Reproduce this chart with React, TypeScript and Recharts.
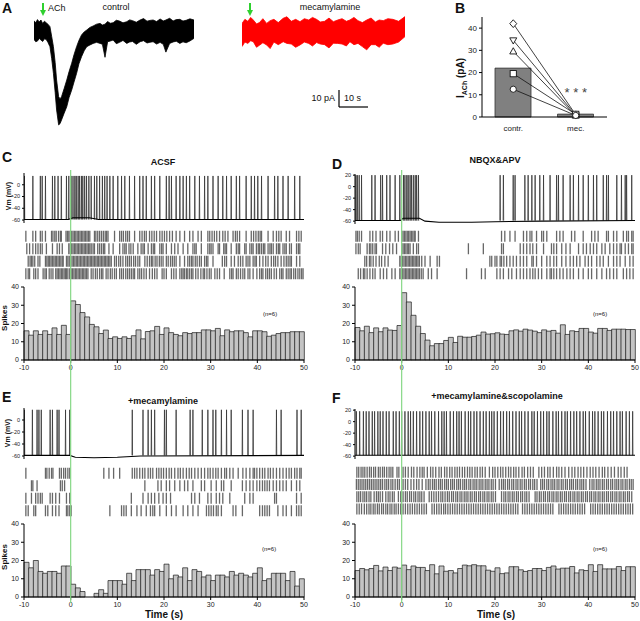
import React from "react";
import {
  ComposedChart,
  LineChart,
  ScatterChart,
  Line,
  Area,
  Bar,
  Scatter,
  XAxis,
  YAxis,
  ReferenceLine,
  ReferenceDot,
} from "recharts";

const FONT = "'Liberation Sans', Arial, sans-serif";

// ---- A: ACh evoked current, envelope of the noisy trace (pA) ----
const ctrlTime = [0, 0.6, 1.2, 1.8, 2.4, 3, 3.6, 4.2, 4.8, 5.5, 6.1, 6.7, 7.3, 7.8, 8.5, 9.0, 9.5, 10.4, 11.3, 12.1, 13, 13.8, 14.7, 15.5, 16.4, 17.3, 18.2, 19.3, 20.4, 21.6, 22.8, 23.6, 24.5, 25.4, 26.3, 27.3, 28.4, 29.5, 30.7, 32, 33, 34, 35.3, 36.6, 37.8, 39, 40, 41.1, 42.3, 43.5, 44.6, 45.5, 46.8, 48, 49.1, 50.3, 51.4, 52.5, 53.8, 55.2];
const ctrlHi = [7.2, 5.5, 8.0, 6.2, 7.7, 5.0, 6.8, 5.6, 4.5, 2.6, -5, -12.8, -25, -38.5, -51.3, -53, -51.3, -45, -38.5, -32, -25.6, -19, -12.8, -8, -3.8, -1.5, 0, 2.0, 3.1, 4.5, 5.1, 3.8, 4.5, 6.5, 5.2, 5.6, 7.5, 6.9, 5.5, 6.4, 7.8, 7.2, 6.0, 7.7, 8.8, 6.8, 7.4, 7.7, 6.5, 8.5, 7.0, 7.7, 9.0, 7.0, 8.0, 8.2, 6.9, 7.5, 8.6, 7.7];
const ctrlLo = [-7.2, -9.0, -8.5, -6.5, -7.7, -8.8, -6.8, -7.2, -9.5, -12.8, -22, -33.3, -48, -61.5, -73, -72, -69.2, -64, -59, -52, -46.2, -40, -33.3, -26, -20.5, -16, -12.8, -11.5, -10.3, -9.5, -10.3, -11, -21, -9, -8.5, -7.7, -10.5, -9.5, -8, -10.3, -9.2, -8.8, -11, -9, -8.2, -10, -9.4, -9, -10.8, -9.5, -11, -17, -10.3, -9.2, -8.6, -10.3, -9.1, -9.8, -8.4, -6.4];
const mecTime = [0, 1, 2, 3, 3.9, 5, 6, 7.2, 8.5, 9.7, 11, 12.5, 14.2, 15.5, 17, 18.5, 20, 21.5, 23, 24.3, 25.7, 27, 28.5, 30, 31.5, 33, 34.5, 36, 37.2, 38.6, 40, 41.5, 43, 44.5, 46, 47.3, 48.7, 50.3, 52, 54, 56.2];
const mecHi = [7.4, 10.5, 9, 12, 10, 7, 8, 11, 7.4, 9.5, 10.5, 8, 11.3, 12.5, 9, 10.5, 8.7, 11, 10, 12, 10.5, 8.5, 9, 11.5, 8.7, 10, 11, 9, 10, 12, 9.5, 8, 10, 11.5, 8.5, 10, 9.5, 11, 10.5, 9, 12.6];
const mecLo = [-10.5, -7, -8, -6, -6.7, -11, -9.5, -7.5, -9.2, -12, -7, -9, -6.7, -8, -8.5, -11, -9.2, -7, -8, -10, -7.4, -8.5, -9, -11.5, -7.9, -8, -8.5, -10, -6.7, -9, -8, -10.5, -13, -9, -9, -11, -7.9, -9, -8.5, -7, -2.8];

// ---- B: peak I_ACh per cell ----
const bCats = ["contr.", "mec."];
const bMean = [22, 1.3];
const bDiamond = [42, 1.0];
const bTriDown = [34.5, 0.8];
const bTriUp = [29.5, 0.6];
const bSquare = [19.5, 1.2];
const bCircle = [12.5, 0.7];

// ---- histograms, 1 s bins from -10 to 49 ----
const binStart = [-10, -9, -8, -7, -6, -5, -4, -3, -2, -1, 0, 1, 2, 3, 4, 5, 6, 7, 8, 9, 10, 11, 12, 13, 14, 15, 16, 17, 18, 19, 20, 21, 22, 23, 24, 25, 26, 27, 28, 29, 30, 31, 32, 33, 34, 35, 36, 37, 38, 39, 40, 41, 42, 43, 44, 45, 46, 47, 48, 49];
const timeTicks = [-10, 0, 10, 20, 30, 40, 50];
const spikeTicks = [0, 10, 20, 30, 40];

const histACSF = [16, 13.6, 16, 14, 16, 14, 17.6, 14, 19, 14, 32.4, 30.4, 26, 23.6, 19.5, 18.2, 14.5, 16.4, 11.8, 12.7, 11.8, 12.7, 11.8, 13.3, 16.5, 11.6, 15.6, 16, 18.4, 14, 17.6, 15, 14, 13.3, 15, 14.5, 15, 15, 16.5, 16.5, 16, 17.3, 13.3, 16.5, 15.5, 16, 16, 15, 12.7, 16, 16, 15.5, 13, 13.6, 14.5, 15, 15, 15.5, 15.5, 15.5];
const histNBQX = [17.8, 16, 18.5, 15, 17.6, 15.5, 17.6, 16.4, 16.2, 18.9, 36.9, 31.8, 24.5, 18.5, 14.5, 10.9, 7.8, 9, 9, 10.7, 12.4, 9.6, 13, 12.5, 12.5, 12.9, 13.6, 15.3, 14.2, 14.4, 14.9, 14.2, 14, 16, 16.5, 15.8, 16.9, 16.4, 15.8, 15, 16.5, 15.8, 16.2, 14.7, 19.3, 14, 16, 15.6, 17.3, 17.3, 15.3, 14.7, 17.3, 17.3, 16.2, 16.9, 16.9, 16.9, 16.7, 16.7];
const histMec = [19, 16, 20, 14, 13, 14, 14, 13, 17, 17, 7, 5, 3, 0, 0, 2, 4, 2, 9, 9, 9, 7, 13, 9, 15, 15, 15, 12, 15, 14, 18, 10, 12, 11, 16, 9, 15, 14, 11, 12, 9, 12, 12, 11, 14, 12, 13, 12, 11, 13, 16, 9, 10, 13, 13, 13, 9, 14, 6, 10];
const histMecScop = [14.5, 15.6, 14.9, 15.6, 17.3, 14.3, 16.4, 14.5, 16.4, 15.8, 17.5, 15, 17, 16.2, 16.2, 14.5, 17.7, 12.7, 17, 14.1, 14.5, 13.2, 15.6, 17.5, 17.1, 17.7, 17.1, 17.1, 14.7, 14.1, 16, 12.8, 13.2, 16.6, 16.6, 14.9, 14, 14.5, 15.6, 15.6, 14.5, 16.2, 17, 15.3, 15.8, 15.8, 16.7, 13.2, 14.9, 14.5, 17.7, 14, 17.7, 15.4, 15.4, 15.4, 16.7, 14.5, 16.6, 16.6];

// ---- example Vm traces: spike times (s) and baseline (mV) ----
const cSpikes = [-9.9, -8.1, -6.5, -6.1, -5.4, -3.9, -3.4, -2.7, -2.0, -0.9, -0.4, 0.1, 0.5, 0.9, 1.2, 1.6, 1.9, 2.3, 2.6, 3.0, 3.4, 3.9, 4.4, 5.1, 5.6, 6.2, 6.8, 7.3, 7.8, 8.4, 9.1, 10.1, 10.9, 11.6, 12.6, 13.7, 14.8, 15.5, 16.2, 17.3, 18, 19.1, 20.5, 21.1, 21.6, 22.6, 23.4, 24.1, 24.8, 25.5, 26.6, 27.6, 28.7, 29.4, 30.5, 31.6, 32.6, 33.4, 34.4, 35.5, 36.2, 37.6, 38.7, 39.4, 40.1, 40.9, 42.3, 43.7, 44.4, 45.5, 46.6, 48, 49.1];
const cBaseT = [-10, -0.5, 0.5, 4, 6, 50];
const cBaseV = [-59, -59, -56, -56, -59, -59];
const dSpikes = [-9.8, -9.5, -9.1, -8.6, -6.4, -5.7, -4.5, -4.1, -3.2, -2.5, -1.4, -0.4, 0.4, 0.7, 1.1, 1.4, 1.8, 2.1, 2.5, 2.9, 3.2, 3.6, 21.1, 21.8, 23.9, 24.3, 26.4, 27.1, 27.9, 28.6, 29.6, 30.4, 31.8, 33.2, 33.6, 34.6, 36.1, 36.8, 37.9, 38.9, 40, 41.1, 41.8, 43.2, 43.9, 44.3, 46.1, 47.1, 47.9, 48.2, 49.3];
const dBaseT = [-10, -0.3, 0.3, 3.8, 5, 8, 15, 20, 30, 50];
const dBaseV = [-59, -59, -55, -55, -60, -62, -62, -61, -60, -59];
const eSpikes = [-9.9, -8.2, -7.2, -6.8, -6.3, -4.4, -3.9, -2.9, -2.5, -1.1, -0.2, 13.2, 15.5, 16.6, 17.3, 18, 20.1, 20.5, 22.6, 25.6, 26.2, 28.2, 29.4, 30.5, 31.1, 32.3, 33.4, 34.4, 36.8, 38, 39.1, 44.1, 45.1, 48.5, 49.4];
const eBaseT = [-10, -0.2, 1, 5, 10, 15, 50];
const eBaseV = [-59, -59, -62, -63, -62, -60, -59];
const fSpikes = [-9.7, -9.0, -8.2, -7.6, -7.0, -6.3, -5.8, -5.1, -4.6, -4.0, -3.3, -2.7, -1.8, -1.2, -0.5, 0.0, 0.7, 1.4, 1.9, 2.5, 3.2, 3.9, 4.5, 5.2, 5.9, 6.4, 7.1, 7.9, 8.6, 9.1, 9.6, 10.4, 11.1, 11.8, 12.3, 12.8, 13.6, 14.3, 14.8, 15.5, 16.1, 16.8, 17.5, 18.1, 18.8, 19.3, 19.8, 20.5, 21.2, 21.8, 22.5, 23.1, 23.8, 24.5, 25.2, 25.7, 26.4, 27.1, 27.9, 28.4, 29.1, 29.8, 30.4, 31.1, 31.6, 32.4, 33.1, 33.6, 34.3, 35.0, 35.5, 36.2, 36.9, 37.5, 38.2, 38.9, 39.4, 40.2, 40.9, 41.4, 42.1, 42.8, 43.3, 44.1, 44.8, 45.4, 46.1, 46.8, 47.3, 48.1, 48.8, 49.5];
const fBaseT = [-10, 50];
const fBaseV = [-58.5, -58.5];

// ---- rasters, 4 sweeps per condition (spike times, s) ----
const cRow1 = [-9.6, -8.1, -7.5, -6.5, -6.1, -5.4, -4.1, -3.8, -3.4, -3.1, -2.6, -2.2, -2.0, -1.0, -0.7, -0.4, -0.1, 0.2, 0.5, 0.8, 1.1, 1.4, 1.7, 2.0, 2.3, 2.6, 2.9, 3.2, 3.5, 3.8, 4.1, 5.1, 5.4, 5.8, 6.2, 6.6, 7.0, 7.4, 7.7, 8.0, 9.4, 10.5, 10.9, 11.3, 11.8, 12.2, 12.6, 13.7, 14.8, 15.3, 15.8, 16.2, 16.9, 17.4, 17.9, 18.4, 19.1, 19.6, 20.1, 20.6, 21.2, 21.8, 22.6, 23.4, 24.4, 25.5, 26.2, 27.3, 28.0, 29.4, 29.8, 30.3, 30.8, 31.3, 31.9, 32.6, 33.1, 33.7, 34.8, 35.3, 35.7, 36.2, 37.6, 38.7, 39.2, 39.7, 40.2, 40.6, 40.9, 42.3, 43.4, 44.1, 44.6, 45.1, 46.2, 46.9, 48.4, 48.9, 49.4];
const cRow2 = [-9.4, -8.8, -8.1, -7.5, -7.0, -6.5, -6.1, -5.2, -3.9, -2.9, -2.4, -1.8, -0.4, -0.1, 0.2, 0.5, 0.8, 1.1, 1.4, 1.7, 2.0, 2.3, 2.6, 2.9, 3.2, 3.5, 3.8, 4.1, 4.4, 4.8, 5.1, 5.8, 6.2, 6.6, 7.0, 7.3, 8.2, 9.1, 10.5, 11.2, 11.6, 11.9, 12.5, 12.9, 13.4, 14.4, 15.1, 15.5, 15.8, 16.6, 17.3, 17.7, 18.0, 19.1, 19.5, 19.8, 20.5, 21.6, 22.3, 23.0, 24.1, 25.1, 26.2, 26.6, 26.9, 28.0, 29.4, 29.8, 30.1, 30.5, 31.6, 31.9, 32.8, 33.1, 33.4, 34.4, 35.5, 35.9, 36.2, 37.3, 37.6, 38.4, 38.8, 39.1, 39.8, 40.2, 40.5, 40.9, 41.3, 41.6, 42.3, 42.7, 43.0, 43.4, 44.1, 44.5, 44.8, 45.5, 45.9, 46.2, 46.9, 47.3, 48.4, 48.8, 49.1];
const cRow3 = [-9.1, -8.7, -8.4, -8.1, -7.7, -7.0, -6.6, -5.4, -5.1, -4.8, -4.5, -4.2, -3.9, -3.6, -3.3, -3.0, -2.7, -2.4, -2.1, -1.8, -1.6, -0.9, -0.6, -0.3, 0.0, 0.3, 0.6, 0.9, 1.2, 1.5, 1.8, 2.1, 2.4, 2.7, 3.0, 3.3, 3.6, 3.9, 4.2, 4.5, 4.8, 5.1, 5.4, 5.7, 6.0, 6.3, 6.6, 6.9, 7.2, 7.5, 7.8, 8.1, 8.4, 8.7, 9.4, 9.8, 10.3, 10.7, 11.2, 11.8, 12.2, 12.6, 13.0, 13.5, 13.9, 14.4, 14.8, 15.9, 16.4, 16.9, 17.3, 17.6, 18.1, 18.5, 19.0, 19.4, 19.8, 20.5, 20.9, 21.4, 21.8, 22.2, 22.6, 23.4, 24.4, 25.1, 25.5, 25.9, 26.2, 26.7, 27.1, 27.6, 28.0, 28.7, 29.1, 29.4, 30.5, 32.5, 33.0, 33.4, 34.4, 35.1, 35.9, 36.4, 36.9, 37.6, 38.0, 38.4, 39.1, 39.5, 39.8, 40.5, 41.2, 41.8, 42.3, 43.0, 43.5, 43.9, 44.4, 45.1, 45.7, 46.2, 46.6, 47.0, 47.3, 48.4, 49.1];
const cRow4 = [-9.6, -9.1, -8.8, -7.9, -7.5, -7.0, -5.9, -5.5, -5.2, -4.6, -4.2, -3.8, -3.2, -2.9, -2.6, -2.3, -2.0, -1.7, -1.4, -1.1, -0.9, -0.6, -0.2, 0.1, 0.4, 0.7, 1.0, 1.3, 1.6, 1.9, 2.2, 2.5, 2.8, 3.1, 3.4, 3.7, 4.4, 4.8, 5.3, 5.7, 6.2, 6.6, 6.9, 7.6, 8.0, 8.5, 8.9, 9.4, 9.8, 10.5, 10.9, 11.3, 11.8, 12.2, 12.6, 13.0, 13.4, 13.7, 14.4, 14.8, 15.2, 15.7, 16.2, 16.9, 17.5, 18.0, 18.5, 19.6, 20.0, 20.5, 21.6, 22.1, 22.6, 23.4, 23.8, 24.1, 24.4, 24.8, 25.1, 25.5, 25.9, 26.2, 26.8, 27.3, 27.9, 28.4, 28.7, 29.2, 29.7, 30.1, 30.9, 31.4, 31.9, 32.9, 34.1, 34.5, 34.8, 35.5, 35.9, 36.4, 36.9, 37.3, 38.0, 38.4, 39.1, 39.9, 40.5, 40.9, 41.2, 41.8, 42.2, 42.6, 43.0, 43.6, 44.1, 44.8, 45.2, 45.5, 46.2, 46.6, 47.0, 47.3, 47.8, 48.2, 48.7, 49.1, 49.5, 49.8];

const dRow1 = [-9.8, -9.5, -9.1, -8.6, -6.8, -6.2, -5.5, -4.6, -4.1, -3.2, -2.5, -1.4, -0.7, 0.0, 0.3, 0.6, 0.9, 1.2, 1.5, 1.8, 2.1, 2.4, 2.7, 2.9, 3.6, 21.4, 22.1, 23.2, 24.3, 26.1, 26.8, 27.5, 27.9, 28.9, 30.0, 30.4, 31.1, 33.2, 33.9, 34.6, 36.4, 37.1, 38.9, 40.7, 41.4, 42.1, 43.9, 44.3, 45.4, 46.1, 47.5, 48.2, 48.6, 49.3, 49.6];
const dRow2 = [-9.8, -9.3, -8.9, -7.4, -6.9, -6.6, -6.2, -5.7, -5.4, -4.1, -3.4, -2.6, -1.9, -1.1, 0.0, 0.3, 0.6, 0.9, 1.2, 1.5, 1.8, 2.5, 3.2, 3.6, 14.3, 17.5, 21.4, 21.8, 25.4, 26.1, 26.8, 27.5, 28.1, 28.9, 30.4, 32.1, 32.6, 33.2, 34.3, 35.2, 36.1, 37.9, 38.9, 39.6, 40.4, 41.1, 41.8, 42.9, 43.6, 44.6, 45.4, 46.1, 46.8, 47.1, 47.9, 48.6, 49.3, 49.6];
const dRow3 = [-7.9, -7.5, -6.9, -6.6, -6.1, -5.5, -4.8, -4.3, -3.6, -2.9, -0.4, -0.1, 0.2, 0.5, 0.8, 1.1, 1.4, 1.7, 2.0, 2.3, 2.6, 2.9, 3.2, 3.5, 3.8, 4.3, 5.0, 6.1, 7.6, 8.1, 18.9, 19.3, 20.0, 20.4, 21.1, 21.4, 21.9, 22.5, 23.2, 23.9, 24.6, 25.4, 26.1, 26.8, 27.9, 28.2, 28.9, 30.0, 31.1, 31.8, 32.6, 33.2, 34.3, 35.2, 36.1, 36.8, 37.5, 38.2, 39.3, 40.0, 40.7, 41.8, 42.5, 43.2, 44.3, 45.4, 46.1, 46.8, 47.9, 48.9, 49.6];
const dRow4 = [-9.3, -8.8, -8.2, -7.9, -7.4, -6.8, -6.2, -5.7, -4.6, -3.9, -3.2, -2.1, -1.4, -0.4, -0.1, 0.2, 0.5, 0.8, 1.1, 1.4, 1.7, 2.0, 2.3, 2.6, 2.9, 3.2, 3.5, 3.8, 4.2, 4.6, 5.7, 6.4, 7.6, 13.9, 17.1, 17.9, 20.4, 21.1, 21.8, 22.9, 23.6, 24.6, 25.4, 26.1, 26.8, 27.5, 28.1, 28.6, 29.3, 30.0, 31.1, 31.8, 32.1, 32.6, 33.2, 33.9, 34.6, 35.4, 36.1, 36.8, 37.9, 38.9, 40.0, 40.7, 41.8, 42.9, 43.9, 44.6, 45.4, 46.1, 47.5, 48.2, 48.9, 49.6];

const eRow1 = [-9.6, -5.4, -5.1, -4.6, -4.1, -3.8, -2.4, -2.0, -1.5, -1.1, -0.6, -0.2, 7.1, 8.2, 9.2, 10.5, 13.2, 13.7, 14.2, 14.8, 15.4, 15.9, 16.6, 17.1, 17.6, 18.4, 18.9, 19.4, 19.9, 20.5, 21.1, 21.6, 22.3, 23.0, 23.5, 24.1, 24.8, 25.4, 25.9, 26.6, 27.3, 28.0, 28.7, 29.4, 29.9, 30.5, 31.1, 31.6, 32.3, 33.0, 33.4, 34.1, 34.8, 35.9, 36.9, 37.6, 38.4, 39.1, 39.4, 39.9, 40.5, 41.1, 41.6, 42.3, 42.8, 43.4, 44.1, 44.8, 45.5, 46.2, 46.8, 47.3, 48.0, 48.5, 49.1, 49.4];
const eRow2 = [-8.4, -8.1, -7.2, -2.2, -1.8, -1.3, 15.9, 18.7, 19.4, 20.5, 21.2, 22.3, 23.4, 24.4, 25.1, 26.2, 28.0, 28.7, 30.1, 31.2, 32.3, 32.8, 34.4, 36.8, 37.6, 38.4, 39.1, 39.9, 40.5, 41.1, 41.6, 42.1, 42.6, 43.4, 44.1, 44.8, 45.5, 46.2, 47.3, 48.4, 49.1];
const eRow3 = [-9.6, -8.4, -7.5, -7.0, -6.5, -6.1, -4.4, -3.9, -3.2, -2.4, -0.9, -0.2, 13.0, 15.5, 16.6, 17.3, 18.0, 18.9, 19.8, 20.5, 21.4, 25.9, 26.6, 27.6, 29.4, 30.1, 31.2, 31.9, 32.6, 34.1, 37.3, 38.4, 39.1, 43.7, 44.1, 48.4, 49.4];
const eRow4 = [-9.6, -9.1, -7.9, -7.5, -5.4, -4.9, -3.9, -3.2, -2.5, -0.9, -0.6, -0.2, 0.1, 8.4, 10.9, 11.4, 11.9, 13.0, 14.2, 15.1, 16.2, 17.1, 17.6, 18.0, 19.1, 20.5, 21.6, 22.6, 24.1, 25.1, 26.2, 27.3, 29.1, 29.6, 30.1, 30.6, 31.2, 31.6, 32.3, 34.8, 35.4, 36.8, 40.5, 41.1, 41.6, 42.1, 42.6, 44.4, 45.5, 46.2, 47.3, 48.4, 48.9, 49.4];

const fRow1 = [-9.6, -9.2, -8.7, -8.3, -7.9, -7.4, -6.9, -6.5, -6.0, -5.6, -5.0, -4.6, -4.1, -3.7, -3.2, -2.7, -2.3, -1.9, -1.0, -0.6, 0.3, 0.8, 1.4, 2.1, 2.6, 3.3, 3.9, 4.4, 4.8, 5.5, 6.2, 6.7, 7.3, 8.0, 8.5, 9.2, 9.7, 10.3, 10.8, 11.4, 11.9, 12.4, 13.0, 13.5, 14.1, 14.6, 15.1, 15.7, 16.2, 16.8, 17.3, 17.9, 18.8, 19.5, 20.0, 20.6, 21.2, 21.7, 22.3, 22.9, 23.4, 24.0, 24.5, 25.1, 25.8, 26.3, 27.0, 27.6, 28.2, 29.4, 30.0, 30.6, 31.3, 31.8, 32.5, 33.2, 33.7, 34.3, 35.0, 35.8, 36.5, 37.1, 37.8, 38.4, 39.0, 39.7, 40.4, 41.0, 41.6, 42.3, 43.0, 43.5, 44.2, 44.9, 45.6, 46.4, 47.0, 47.7, 48.3];
const fRow2 = [-9.7, -9.3, -8.9, -8.5, -8.1, -7.7, -7.3, -6.9, -6.5, -6.1, -5.7, -5.3, -4.9, -4.5, -4.1, -3.6, -3.2, -2.8, -2.3, -1.9, -1.4, -0.9, -0.5, 0.3, 0.8, 1.3, 2.0, 2.6, 3.2, 3.7, 4.4, 5.2, 5.7, 6.1, 6.6, 7.0, 7.4, 7.9, 8.3, 8.7, 9.2, 9.6, 10.0, 10.5, 10.9, 11.3, 11.8, 12.2, 12.6, 13.1, 13.5, 13.9, 14.4, 14.8, 15.3, 15.7, 16.1, 16.6, 17.0, 17.4, 17.9, 18.3, 18.7, 19.2, 19.6, 20.1, 20.9, 21.4, 21.8, 22.2, 22.7, 23.1, 23.6, 24.0, 24.5, 24.9, 25.4, 25.8, 26.3, 26.7, 27.2, 27.6, 28.1, 28.5, 29.0, 29.8, 30.2, 30.6, 31.1, 31.5, 32.0, 32.4, 32.8, 33.3, 33.7, 34.2, 34.6, 35.1, 35.5, 36.0, 36.4, 36.8, 37.3, 37.7, 38.2, 38.6, 39.0, 39.5, 40.3, 40.8, 41.2, 41.7, 42.1, 42.5, 43.0, 43.4, 43.9, 44.3, 44.8, 45.2, 45.7, 46.1, 46.5, 47.0, 47.4, 47.9, 48.3, 48.8, 49.2, 49.6];
const fRow3 = [-9.6, -9.2, -8.8, -8.3, -7.9, -7.5, -7.0, -6.6, -5.9, -5.4, -5.0, -4.6, -4.1, -3.4, -2.9, -2.5, -2.0, -1.6, -0.7, -0.2, 0.3, 0.8, 1.2, 1.7, 2.1, 2.6, 3.0, 3.5, 3.9, 4.3, 4.8, 5.9, 6.4, 6.9, 7.4, 7.9, 8.4, 8.8, 9.3, 9.8, 10.2, 10.7, 11.1, 11.6, 12.0, 12.5, 12.9, 13.4, 13.8, 14.2, 14.7, 15.1, 15.6, 16.0, 16.5, 16.9, 17.4, 17.8, 18.3, 18.7, 19.2, 19.6, 20.1, 21.4, 21.9, 22.3, 22.8, 23.2, 23.7, 24.1, 24.6, 25.0, 25.5, 25.9, 26.4, 26.8, 27.3, 28.6, 29.0, 29.5, 29.9, 30.4, 30.8, 31.3, 31.7, 32.2, 32.6, 33.1, 33.5, 34.0, 34.4, 34.9, 35.3, 35.8, 36.2, 36.7, 37.1, 37.6, 38.0, 38.5, 38.9, 39.4, 39.8, 40.3, 40.7, 41.2, 41.6, 42.1, 42.5, 43.0, 43.4, 43.9, 44.3, 44.8, 45.2, 45.7, 46.1, 46.6, 47.0, 47.5, 47.9, 48.4, 48.8, 49.3];
const fRow4 = [-9.6, -9.1, -8.6, -8.0, -7.5, -7.0, -6.6, -6.1, -5.7, -5.2, -4.8, -4.3, -3.9, -3.4, -3.0, -2.5, -2.1, -1.6, -1.2, -0.7, -0.2, 0.3, 0.8, 1.3, 1.8, 2.3, 2.8, 3.3, 3.8, 4.3, 4.8, 5.3, 6.5, 7.0, 7.5, 8.0, 8.5, 9.0, 9.4, 9.9, 10.4, 10.9, 11.4, 11.9, 12.4, 12.9, 13.4, 13.9, 14.4, 14.9, 15.4, 15.9, 16.4, 16.9, 17.4, 17.9, 18.4, 18.9, 19.4, 19.9, 20.4, 20.9, 21.4, 21.9, 22.4, 22.9, 23.4, 23.9, 24.4, 24.9, 25.9, 26.4, 26.9, 27.4, 27.9, 28.4, 28.9, 29.4, 29.9, 30.4, 30.9, 31.4, 31.9, 32.4, 33.7, 34.2, 34.7, 35.2, 35.7, 36.2, 36.7, 37.2, 37.7, 38.2, 38.7, 39.2, 40.5, 41.0, 41.5, 42.0, 42.5, 43.0, 43.5, 44.0, 44.5, 45.0, 45.5, 46.0, 46.5, 47.0, 47.5, 48.0, 48.5, 49.0, 49.5];

// columns: left edge of chart, y-axis width, right margin
const COL_L = { left: 0, yw: 24, rm: 16 };
const COL_R = { left: 320, yw: 35, rm: 5 };
const GREEN = "#86d886";

const axisTick = (size: number) => ({ fontSize: size, fill: "#222", fontFamily: FONT });

function Txt({ x, y, size, bold, anchor, children, spacing }: any) {
  const tx = anchor === "middle" ? "translateX(-50%)" : anchor === "end" ? "translateX(-100%)" : "";
  return (
    <div style={{ position: "absolute", left: x, top: y, fontSize: size, fontWeight: bold ? "bold" : "normal", whiteSpace: "nowrap", lineHeight: 1, transform: tx, letterSpacing: spacing }}>
      {children}
    </div>
  );
}

function VTxt({ x, y, size, children }: any) {
  return (
    <div style={{ position: "absolute", left: x, top: y, fontSize: size, fontWeight: "bold", whiteSpace: "nowrap", lineHeight: 1, transform: "translate(-50%,-50%) rotate(-90deg)" }}>
      {children}
    </div>
  );
}

function spikeRows(times: number[], foot: number, peak: number) {
  const out: { t: number; v: number | null }[] = [];
  times.forEach((t) => {
    out.push({ t: t - 0.06, v: foot }, { t, v: peak }, { t: t + 0.06, v: foot }, { t: t + 0.07, v: null });
  });
  return out;
}

function Trace({ col, top, height, domain, ticks, spikes, peak, foot, baseT, baseV }: any) {
  const base = baseT.map((t: number, i: number) => ({ t, v: baseV[i] }));
  return (
    <div style={{ position: "absolute", left: col.left, top }}>
      <LineChart width={320} height={height} margin={{ top: 2, right: col.rm, bottom: 0, left: 0 }}>
        <XAxis type="number" dataKey="t" domain={[-10, 50]} allowDataOverflow hide height={0} />
        <YAxis type="number" domain={domain} ticks={ticks} width={col.yw} allowDataOverflow interval={0}
          tick={axisTick(5.5)} tickSize={2} axisLine={{ stroke: "#000" }} tickLine={{ stroke: "#000" }} />
        <Line data={spikeRows(spikes, foot, peak)} dataKey="v" type="linear" stroke="#333" strokeWidth={0.8} dot={false} connectNulls={false} isAnimationActive={false} />
        <Line data={base} dataKey="v" type="linear" stroke="#000" strokeWidth={1.1} dot={false} isAnimationActive={false} />
      </LineChart>
    </div>
  );
}

const RasterTick = (p: any) => {
  if (p.cx == null || p.cy == null) return <g />;
  return <line x1={p.cx} x2={p.cx} y1={p.cy - 5.5} y2={p.cy + 5.5} stroke="#676767" strokeWidth={1.3} />;
};

function Raster({ col, top, height, rows }: any) {
  return (
    <div style={{ position: "absolute", left: col.left, top }}>
      <ScatterChart width={320} height={height} margin={{ top: 0, right: col.rm, bottom: 0, left: col.yw }}>
        <XAxis type="number" dataKey="t" domain={[-10, 50]} allowDataOverflow hide height={0} />
        <YAxis type="number" dataKey="r" domain={[0.5, 4.5]} reversed allowDataOverflow hide width={0} />
        {rows.map((row: number[], i: number) => (
          <Scatter key={i} data={row.map((t) => ({ t, r: i + 1 }))} shape={RasterTick} isAnimationActive={false} />
        ))}
      </ScatterChart>
    </div>
  );
}

// bars sit on a category axis (one band per bin); the visible time axis is numeric
// and carries an invisible line so its domain is the real time range
function Hist({ col, top, values }: any) {
  const data = binStart.map((b, i) => ({ bin: b, mid: b + 0.5, v: values[i] }));
  return (
    <div style={{ position: "absolute", left: col.left, top }}>
      <ComposedChart width={320} height={100} data={data} margin={{ top: 7, right: col.rm, bottom: 0, left: 0 }} barCategoryGap={0} barGap={0}>
        <XAxis xAxisId="t" dataKey="mid" type="number" domain={[-10, 50]} ticks={timeTicks} allowDataOverflow interval={0} height={20}
          tick={axisTick(7)} tickSize={3} axisLine={{ stroke: "#000" }} tickLine={{ stroke: "#000" }} />
        <XAxis xAxisId="bin" dataKey="bin" type="category" hide height={0} />
        <YAxis type="number" domain={[0, 40]} ticks={spikeTicks} width={col.yw} interval={0}
          tick={axisTick(7)} tickSize={3} axisLine={{ stroke: "#000" }} tickLine={{ stroke: "#000" }} />
        <Bar xAxisId="bin" dataKey="v" fill="#c4c4c4" stroke="#1a1a1a" strokeWidth={0.7} isAnimationActive={false} />
        <Line xAxisId="t" dataKey="v" stroke="none" dot={false} activeDot={false} isAnimationActive={false} />
      </ComposedChart>
    </div>
  );
}

function Stim({ col }: any) {
  return (
    <div style={{ position: "absolute", left: col.left, top: 170, pointerEvents: "none" }}>
      <LineChart width={320} height={433} margin={{ top: 0, right: col.rm, bottom: 0, left: col.yw }}>
        <XAxis type="number" dataKey="t" domain={[-10, 50]} allowDataOverflow hide height={0} />
        <YAxis type="number" domain={[0, 1]} hide width={0} />
        <Line data={[{ t: -10, v: 0 }, { t: 50, v: 0 }]} dataKey="v" stroke="none" dot={false} isAnimationActive={false} />
        <ReferenceLine x={0} stroke={GREEN} strokeWidth={1.2} />
      </LineChart>
    </div>
  );
}

function Band({ left, top, width, height, time, lo, hi, xMax, yDomain, color }: any) {
  const data = time.map((t: number, i: number) => ({ t, band: [lo[i], hi[i]] }));
  return (
    <div style={{ position: "absolute", left, top }}>
      <ComposedChart width={width} height={height} data={data} margin={{ top: 0, right: 0, bottom: 0, left: 0 }}>
        <XAxis type="number" dataKey="t" domain={[0, xMax]} allowDataOverflow hide height={0} />
        <YAxis type="number" domain={yDomain} allowDataOverflow hide width={0} />
        <Area dataKey="band" type="linear" stroke={color} strokeWidth={0.8} fill={color} fillOpacity={1} isAnimationActive={false} />
      </ComposedChart>
    </div>
  );
}

const marker = (kind: string) => (p: any) => {
  const { cx, cy, index } = p;
  if (cx == null || cy == null) return <g key={index} />;
  const s = 3.1;
  const st = { fill: "#fff", stroke: "#111", strokeWidth: 0.9 };
  if (kind === "circle") return <circle key={index} cx={cx} cy={cy} r={s} {...st} />;
  if (kind === "square") return <rect key={index} x={cx - s} y={cy - s} width={2 * s} height={2 * s} {...st} />;
  if (kind === "up") return <polygon key={index} points={`${cx},${cy - s - 0.6} ${cx - s - 0.4},${cy + s - 0.6} ${cx + s + 0.4},${cy + s - 0.6}`} {...st} />;
  if (kind === "down") return <polygon key={index} points={`${cx},${cy + s + 0.6} ${cx - s - 0.4},${cy - s + 0.6} ${cx + s + 0.4},${cy - s + 0.6}`} {...st} />;
  return <polygon key={index} points={`${cx},${cy - s - 0.8} ${cx + s + 0.4},${cy} ${cx},${cy + s + 0.8} ${cx - s - 0.4},${cy}`} {...st} />;
};

function PanelB() {
  const data = bCats.map((name, i) => ({
    name,
    mean: bMean[i],
    dia: bDiamond[i],
    down: bTriDown[i],
    up: bTriUp[i],
    sq: bSquare[i],
    ci: bCircle[i],
  }));
  const series: [string, string][] = [["dia", "diamond"], ["down", "down"], ["up", "up"], ["sq", "square"], ["ci", "circle"]];
  return (
    <div style={{ position: "absolute", left: 430, top: 10 }}>
      <ComposedChart width={190} height={125} data={data} margin={{ top: 7, right: 13, bottom: 0, left: 0 }}>
        <XAxis dataKey="name" height={18} tick={axisTick(8)} tickLine={false} axisLine={{ stroke: "#000" }} />
        <YAxis type="number" domain={[0, 45]} ticks={[0, 10, 20, 30, 40]} width={52} interval={0}
          tick={axisTick(8)} tickSize={3} axisLine={{ stroke: "#000" }} tickLine={{ stroke: "#000" }} />
        <Bar dataKey="mean" barSize={36} fill="#808080" stroke="#333" strokeWidth={0.8} isAnimationActive={false} />
        {series.map(([k, kind]) => (
          <Line key={k} dataKey={k} type="linear" stroke="#111" strokeWidth={0.8} dot={marker(kind)} isAnimationActive={false} />
        ))}
        <ReferenceDot x="mec." y={11} r={0} label={{ value: "* * *", fontSize: 13, fill: "#444", position: "center" }} />
      </ComposedChart>
    </div>
  );
}

export default function App() {
  return (
    <div style={{ position: "absolute", left: 0, top: 0, width: 640, height: 621, overflow: "hidden", background: "#fff", fontFamily: FONT, color: "#111" }}>
      {/* A */}
      <Txt x={2} y={1} size={14} bold>A</Txt>
      <Txt x={48} y={4} size={9}>ACh</Txt>
      <Txt x={116} y={3} size={9} anchor="middle">control</Txt>
      <Txt x={330} y={3} size={9} anchor="middle">mecamylamine</Txt>
      <Band left={34} top={10} width={160} height={124} time={ctrlTime} lo={ctrlLo} hi={ctrlHi} xMax={55.2} yDomain={[-80, 15.4]} color="#000" />
      <Band left={242} top={10} width={163} height={50} time={mecTime} lo={mecLo} hi={mecHi} xMax={56.2} yDomain={[-20.8, 17.7]} color="#ff0000" />
      <svg width={640} height={140} style={{ position: "absolute", left: 0, top: 0 }}>
        <line x1={43} x2={43} y1={3} y2={11} stroke="#2fd02f" strokeWidth={2} />
        <polygon points="40,10 46,10 43,16" fill="#2fd02f" />
        <line x1={250} x2={250} y1={3} y2={11} stroke="#2fd02f" strokeWidth={2} />
        <polygon points="247,10 253,10 250,16" fill="#2fd02f" />
        <line x1={339} x2={339} y1={90} y2={107} stroke="#000" strokeWidth={1.2} />
        <line x1={339} x2={368} y1={107} y2={107} stroke="#000" strokeWidth={1.2} />
      </svg>
      <Txt x={335} y={94} size={9} anchor="end">10 pA</Txt>
      <Txt x={344} y={94} size={9}>10 s</Txt>

      {/* B */}
      <Txt x={455} y={1} size={14} bold>B</Txt>
      <PanelB />
      <VTxt x={462} y={78} size={10}>
        I<sub style={{ fontSize: 7 }}>ACh</sub> (pA)
      </VTxt>

      {/* C */}
      <Txt x={2} y={150} size={14} bold>C</Txt>
      <Txt x={163} y={158} size={9} bold anchor="middle">ACSF</Txt>
      <Trace col={COL_L} top={171} height={52} domain={[-65, 20]} ticks={[-60, -40, -20, 0]} spikes={cSpikes} peak={15} foot={-59} baseT={cBaseT} baseV={cBaseV} />
      <Raster col={COL_L} top={230} height={50} rows={[cRow1, cRow2, cRow3, cRow4]} />
      <Hist col={COL_L} top={280} values={histACSF} />
      <VTxt x={8} y={196} size={7}>Vm (mV)</VTxt>
      <VTxt x={5} y={318} size={8}>Spikes</VTxt>
      <Txt x={263} y={311} size={6}>(n=6)</Txt>

      {/* D */}
      <Txt x={332} y={157} size={14} bold>D</Txt>
      <Txt x={495} y={156} size={9} bold anchor="middle">NBQX&amp;APV</Txt>
      <Trace col={COL_R} top={172} height={52} domain={[-65, 22]} ticks={[-60, -40, -20, 0, 20]} spikes={dSpikes} peak={20} foot={-59} baseT={dBaseT} baseV={dBaseV} />
      <Raster col={COL_R} top={230} height={50} rows={[dRow1, dRow2, dRow3, dRow4]} />
      <Hist col={COL_R} top={280} values={histNBQX} />
      <Txt x={593} y={311} size={6}>(n=6)</Txt>

      {/* E */}
      <Txt x={2} y={390} size={14} bold>E</Txt>
      <Txt x={163} y={397} size={9} bold anchor="middle">+mecamylamine</Txt>
      <Trace col={COL_L} top={406} height={53} domain={[-65, 20]} ticks={[-60, -40, -20, 0]} spikes={eSpikes} peak={17} foot={-59} baseT={eBaseT} baseV={eBaseV} />
      <Raster col={COL_L} top={467} height={50} rows={[eRow1, eRow2, eRow3, eRow4]} />
      <Hist col={COL_L} top={517} values={histMec} />
      <VTxt x={7} y={433} size={7}>Vm (mV)</VTxt>
      <VTxt x={5} y={557} size={8}>Spikes</VTxt>
      <Txt x={262} y={546} size={6}>(n=6)</Txt>
      <Txt x={164} y={610} size={10} bold anchor="middle">Time (s)</Txt>

      {/* F */}
      <Txt x={332} y={391} size={14} bold>F</Txt>
      <Txt x={497} y={392} size={9} bold anchor="middle">+mecamylamine&amp;scopolamine</Txt>
      <Trace col={COL_R} top={407} height={52} domain={[-65, 22]} ticks={[-60, -40, -20, 0, 20]} spikes={fSpikes} peak={18} foot={-58.5} baseT={fBaseT} baseV={fBaseV} />
      <Raster col={COL_R} top={466} height={49} rows={[fRow1, fRow2, fRow3, fRow4]} />
      <Hist col={COL_R} top={517} values={histMecScop} />
      <Txt x={593} y={546} size={6}>(n=6)</Txt>
      <Txt x={496} y={610} size={10} bold anchor="middle">Time (s)</Txt>

      <Stim col={COL_L} />
      <Stim col={COL_R} />
    </div>
  );
}
